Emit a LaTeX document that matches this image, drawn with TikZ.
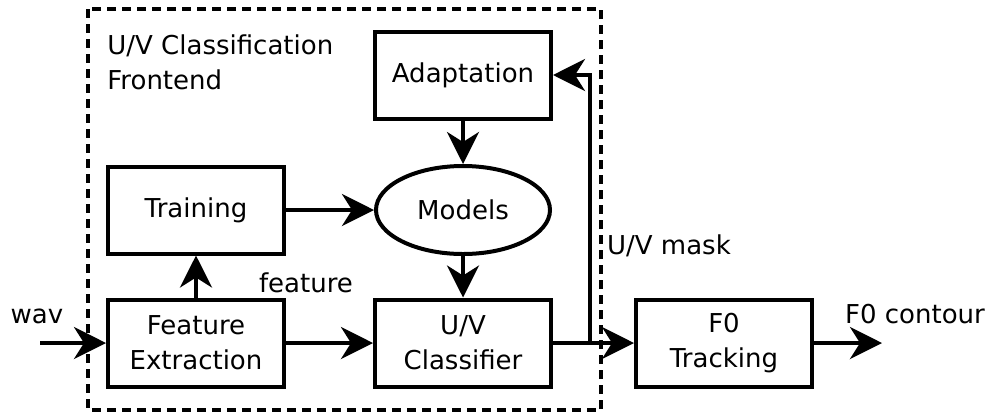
\documentclass[tikz,border=0pt]{standalone}
\usepackage{fontspec}
\setmainfont{DejaVu Sans}
\usetikzlibrary{arrows.meta,shapes.geometric}
\begin{document}
\begin{tikzpicture}[
		x=0.5pt,y=-0.5pt,
		every node/.style={font=\fontsize{13}{17.5}\selectfont},
		block/.style={draw,line width=2pt,minimum width=88pt,minimum height=43.5pt,align=center},
		blob/.style={draw,ellipse,line width=2pt,minimum width=87pt,minimum height=44pt},
		flow/.style={->,line width=2pt},
		>={Stealth[length=16pt,width=16pt,inset=5pt]}
	]
	\useasboundingbox (0,0) rectangle (989,414);
	% frontend frame
	\draw[line width=2pt,dash pattern=on 4.5pt off 3pt] (88,9) rectangle (601,410);
	\node[anchor=west,align=left,inner sep=0] (title) at (107,62) {U/V Classification\\Frontend};
	% blocks
	\node[block] (adapt) at (463,75) {Adaptation};
	\node[blob] (models) at (463,210) {Models};
	\node[block] (train) at (196,210) {Training};
	\node[block] (fe) at (196,343) {Feature\\Extraction};
	\node[block] (cls) at (463,343) {U/V\\Classifier};
	\node[block] (f0) at (724,343) {F0\\Tracking};
	% free ends
	\coordinate (wavin) at (40,343);
	\coordinate (tap) at (590,343);
	\coordinate (out) at (882,343);
	% connectors
	\draw[flow] (wavin) -- (fe.west);
	\draw[flow] (fe.east) -- (cls.west);
	\draw[flow] (fe.north) -- (train.south);
	\draw[flow] (train.east) -- (models.west);
	\draw[flow] (adapt.south) -- (models.north);
	\draw[flow] (models.south) -- (cls.north);
	\draw[flow] (cls.east) -- (f0.west);
	\draw[flow] (tap) |- (adapt.east);
	\draw[flow] (f0.east) -- (out);
	% labels
	\node (wav) at (37,316) {wav};
	\node (feat) at (306,283) {feature};
	\node (mask) at (669,246) {U/V mask};
	\node (contour) at (915,314) {F0 contour};
\end{tikzpicture}
\end{document}
